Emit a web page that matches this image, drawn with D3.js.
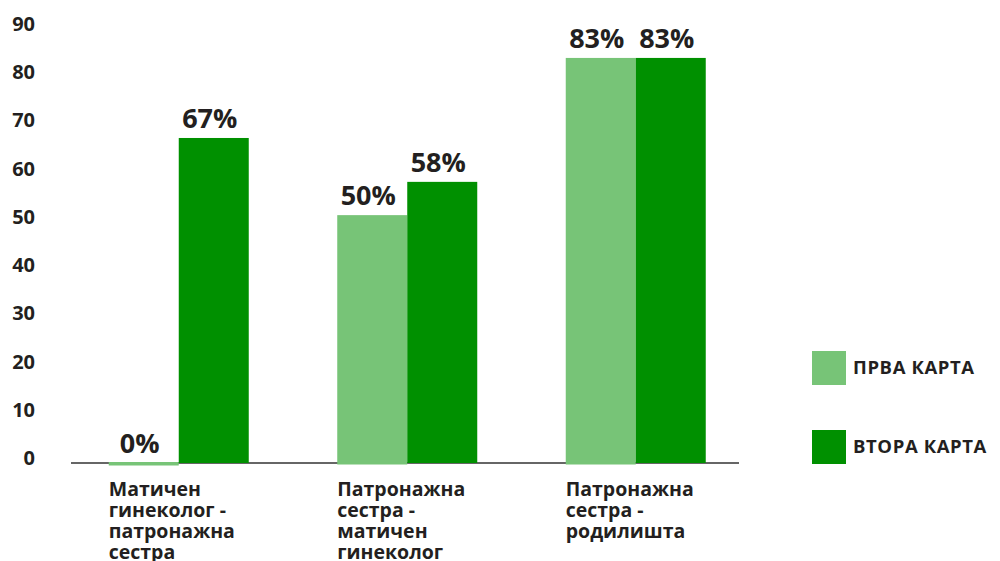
<!DOCTYPE html>
<html>
<head>
<meta charset="utf-8">
<script src="https://cdn.jsdelivr.net/npm/d3@7"></script>
<style>
  body { margin: 0; background: #fff; }
  text { font-family: "Open Sans", sans-serif; font-weight: bold; fill: #231f20; }
</style>
</head>
<body>
<svg id="chart" width="1000" height="561"></svg>
<script>
// categories (each label split into lines)
const categories = [
    ["Матичен", "гинеколог -", "патронажна", "сестра"],
    ["Патронажна", "сестра -", "матичен", "гинеколог"],
    ["Патронажна", "сестра -", "родилишта"]
];
const seriesNames = ["ПРВА КАРТА", "ВТОРА КАРТА"];
const seriesColors = ["#77c477", "#009000"];
// bar heights
const firstCard = [0, 51.4, 84.0];
const secondCard = [67.4, 58.3, 84.0];
// printed labels
const firstLabels = ["0%", "50%", "83%"];
const secondLabels = ["67%", "58%", "83%"];
const yTicks = [0, 10, 20, 30, 40, 50, 60, 70, 80, 90];

const svg = d3.select("#chart");

const BASE_Y = 463;
const TOP_Y = 29;
const AXIS_LEFT = 71;
const AXIS_RIGHT = 739;
const BAR_W = 70;

const y = d3.scaleLinear().domain([0, 90]).range([BASE_Y, TOP_Y]);
const x0 = d3.scaleBand().domain(d3.range(categories.length)).range([64.5, 750]);
const x1 = d3.scaleBand().domain(d3.range(seriesNames.length)).range([0, BAR_W * 2]);

// y tick labels (no axis line)
svg.append("g")
    .selectAll("text.ytick")
    .data(yTicks)
    .join("text")
    .attr("class", "ytick")
    .attr("x", 35)
    .attr("y", d => y(d) - 5)
    .attr("dy", "0.35em")
    .attr("text-anchor", "end")
    .style("font-size", "20px")
    .text(d => d);

// baseline
svg.append("line")
    .attr("x1", AXIS_LEFT)
    .attr("x2", AXIS_RIGHT)
    .attr("y1", BASE_Y)
    .attr("y2", BASE_Y)
    .attr("stroke", "#333")
    .attr("stroke-width", 1.5);

const rows = [];
categories.forEach((c, i) => {
    rows.push({cat: i, s: 0, v: firstCard[i], label: firstLabels[i]});
    rows.push({cat: i, s: 1, v: secondCard[i], label: secondLabels[i]});
});

const barX = d => x0(d.cat) + x0.bandwidth() / 2 - BAR_W + x1(d.s);

const bars = svg.append("g");
bars.selectAll("rect")
    .data(rows)
    .join("rect")
    .attr("x", barX)
    .attr("width", x1.bandwidth())
    .attr("y", d => y(d.v) - (d.v === 0 ? 1 : 0))
    .attr("height", d => Math.max(2, y(0) - y(d.v)) + (d.s === 0 ? 1.5 : 0))
    .attr("fill", d => seriesColors[d.s]);

bars.selectAll("text")
    .data(rows)
    .join("text")
    .attr("x", d => barX(d) + x1.bandwidth() / 2 - 4)
    .attr("y", d => y(d.v) - 10)
    .attr("text-anchor", "middle")
    .style("font-size", "27px")
    .text(d => d.label);

// category labels, left aligned at the group start
const catG = svg.append("g");
categories.forEach((lines, i) => {
    const left = x0(i) + x0.bandwidth() / 2 - BAR_W;
    const t = catG.append("text")
        .attr("x", left)
        .attr("y", 496)
        .style("font-size", "19.5px");
    lines.forEach((line, j) => {
        t.append("tspan")
            .attr("x", left)
            .attr("dy", j === 0 ? 0 : 21)
            .text(line);
    });
});

// legend
const legend = svg.append("g").attr("transform", "translate(812,351)");
seriesNames.forEach((name, i) => {
    legend.append("rect")
        .attr("x", 0)
        .attr("y", i * 79)
        .attr("width", 34)
        .attr("height", 34)
        .attr("fill", seriesColors[i]);
    legend.append("text")
        .attr("x", 41)
        .attr("y", i * 79 + 17)
        .attr("dy", "0.35em")
        .style("font-size", "18.5px")
        .style("letter-spacing", "0.6px")
        .text(name);
});
</script>
</body>
</html>
